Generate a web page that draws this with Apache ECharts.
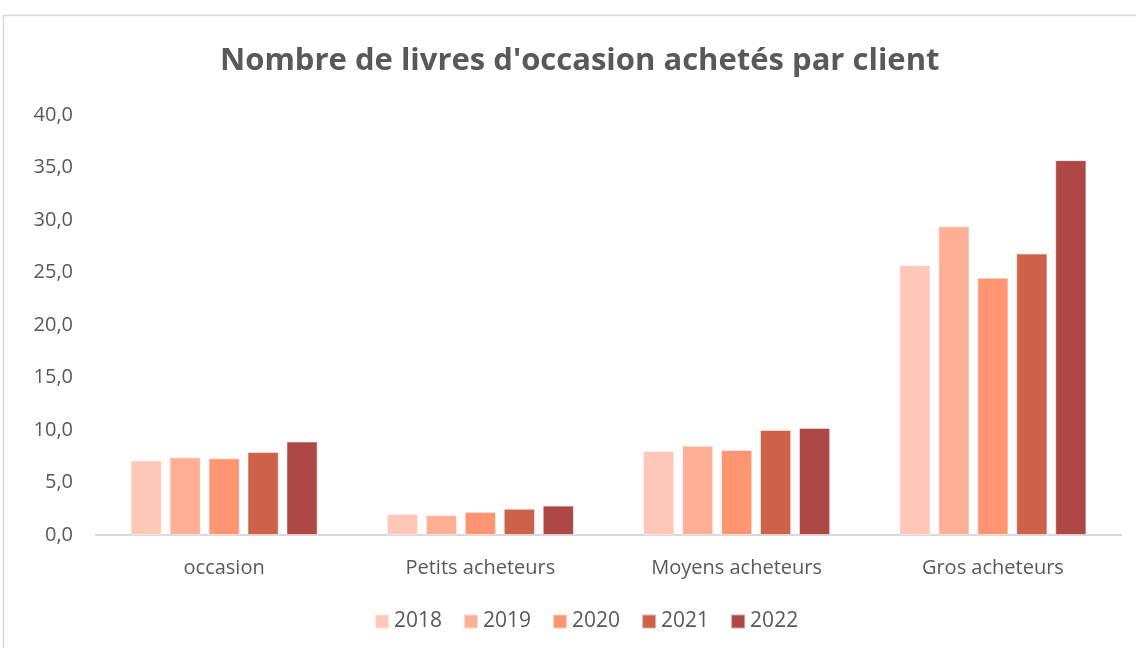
<!DOCTYPE html>
<html lang="fr">
<head>
    <meta charset="UTF-8">
    <title>Livres d'occasion</title>
    <script src="https://cdn.jsdelivr.net/npm/echarts@6/dist/echarts.min.js"></script>
</head>
<style>
html,body{margin:0;padding:0;background-color:#fff}
#chartBox{width:1136px;height:648px}
</style>
<body>
    <div id="chartBox"></div>
</body>
<script>
// données
const categories = ['occasion', 'Petits acheteurs', 'Moyens acheteurs', 'Gros acheteurs'];
const years = ['2018', '2019', '2020', '2021', '2022'];
const v2018 = [7.1, 2.0, 8.0, 25.7];
const v2019 = [7.4, 1.9, 8.5, 29.4];
const v2020 = [7.3, 2.2, 8.1, 24.5];
const v2021 = [7.9, 2.5, 10.0, 26.8];
const v2022 = [8.9, 2.8, 10.2, 35.7];
const yTicks = [0, 5, 10, 15, 20, 25, 30, 35, 40];

const colors = ['#FFC7B7', '#FFAF96', '#FF9572', '#CD614A', '#AD4846'];
const allValues = [v2018, v2019, v2020, v2021, v2022];

let chartObj = echarts.init(document.getElementById('chartBox'));
let option = {
    color: colors,
    textStyle: {fontFamily: 'Open Sans'},
    title: {
        text: "Nombre de livres d'occasion achetés par client",
        left: 215,
        top: 41,
        textStyle: {fontSize: 31, fontWeight: 'bold', color: '#595959', fontFamily: 'Open Sans'}
    },
    graphic: [{
        type: 'rect',
        silent: true,
        shape: {x: 3.5, y: 15.5, width: 1200, height: 700},
        style: {fill: 'none', stroke: '#d9d9d9', lineWidth: 1.5}
    }],
    grid: {left: 96, right: 15, top: 115, bottom: 113},
    legend: {
        bottom: 11,
        left: 369,
        itemWidth: 14,
        itemHeight: 14,
        itemGap: 21,
        icon: 'rect',
        textStyle: {fontSize: 21, color: '#595959'},
        data: years
    },
    xAxis: {
        type: 'category',
        data: categories,
        axisTick: {show: false},
        axisLine: {lineStyle: {color: '#d9d9d9', width: 2}},
        axisLabel: {fontSize: 20, color: '#595959', margin: 23}
    },
    yAxis: {
        type: 'value',
        min: yTicks[0],
        max: yTicks[yTicks.length - 1],
        interval: 5,
        splitLine: {show: false},
        axisLine: {show: false},
        axisTick: {show: false},
        axisLabel: {
            fontSize: 20,
            color: '#595959',
            margin: 23,
            formatter: v => v.toFixed(1).replace('.', ',')
        }
    },
    series: years.map((y, i) => ({
        type: 'bar',
        name: y,
        data: allValues[i],
        barGap: '25%',
        barCategoryGap: '27%',
        itemStyle: {borderColor: 'rgba(255,255,255,0.5)', borderWidth: 1}
    }))
};
chartObj.setOption(option);
</script>
</html>
